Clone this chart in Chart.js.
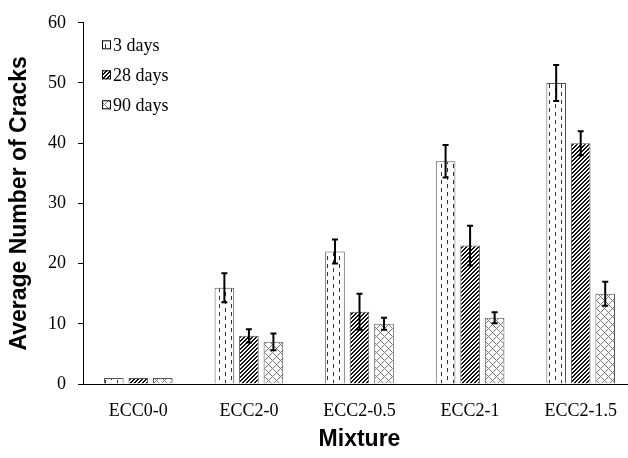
<!DOCTYPE html>
<html>
<head>
<meta charset="utf-8">
<script src="https://cdn.jsdelivr.net/npm/chart.js@4.4.1/dist/chart.umd.min.js"></script>
<style>
  html, body { margin: 0; padding: 0; background: #fff; overflow: hidden; }
  #wrap { width: 636px; height: 458px; }
</style>
</head>
<body>
<div id="wrap"><canvas id="myChart" width="636" height="458"></canvas></div>
<script>
// data
var mixtures = ["ECC0-0", "ECC2-0", "ECC2-0.5", "ECC2-1", "ECC2-1.5"];
var seriesNames = ["3 days", "28 days", "90 days"];
var cracks3 = [1, 16, 22, 37, 50];
var cracks28 = [1, 8, 12, 23, 40];
var cracks90 = [1, 7, 10, 11, 15];
var err3 = [0, 2.4, 2, 2.7, 3];
var err28 = [0, 1.1, 3, 3.3, 2];
var err90 = [0, 1.4, 1, 0.9, 2];
var yTicks = [0, 10, 20, 30, 40, 50, 60];

// fill patterns
function makePattern(w, h, draw) {
    var c = document.createElement('canvas');
    c.width = w; c.height = h;
    var g = c.getContext('2d');
    g.fillStyle = '#fff';
    g.fillRect(0, 0, w, h);
    draw(g, w, h);
    return document.getElementById('myChart').getContext('2d').createPattern(c, 'repeat');
}
var dashPattern = makePattern(12, 8, function (g) {
    g.fillStyle = '#333';
    g.fillRect(3, 0, 1, 4);
    g.fillRect(9, 4, 1, 4);
});
var diagPattern = makePattern(4, 4, function (g) {
    g.fillStyle = '#111';
    for (var x = 0; x < 4; x++) {
        for (var y = 0; y < 4; y++) {
            if ((x + y) % 4 === 0 || (x + y) % 4 === 1) g.fillRect(x, y, 1, 1);
        }
    }
});
var crossPattern = makePattern(8, 8, function (g) {
    g.fillStyle = '#777';
    for (var x = 0; x < 8; x++) {
        for (var y = 0; y < 8; y++) {
            if ((x + y) % 8 === 0 || (x - y + 8) % 8 === 0) g.fillRect(x, y, 1, 1);
        }
    }
});

var errs = [err3, err28, err90];

// error bars
var errorBars = {
    id: 'errorBars',
    afterDatasetsDraw: function (chart) {
        var ctx = chart.ctx;
        var yScale = chart.scales.y;
        ctx.save();
        ctx.strokeStyle = '#000';
        ctx.lineWidth = 2;
        chart.data.datasets.forEach(function (ds, di) {
            var meta = chart.getDatasetMeta(di);
            meta.data.forEach(function (bar, i) {
                var e = errs[di][i];
                if (!e) return;
                var top = yScale.getPixelForValue(ds.data[i] + e);
                var bot = yScale.getPixelForValue(ds.data[i] - e);
                ctx.beginPath();
                ctx.moveTo(bar.x, top); ctx.lineTo(bar.x, bot);
                ctx.moveTo(bar.x - 3, top); ctx.lineTo(bar.x + 3, top);
                ctx.moveTo(bar.x - 3, bot); ctx.lineTo(bar.x + 3, bot);
                ctx.stroke();
            });
        });
        ctx.restore();
    }
};

// legend inside the plot, top left
var innerLegend = {
    id: 'innerLegend',
    afterDraw: function (chart) {
        var ctx = chart.ctx;
        var area = chart.chartArea;
        ctx.save();
        ctx.font = '18px "Liberation Serif", "Times New Roman", serif';
        ctx.textBaseline = 'middle';
        chart.data.datasets.forEach(function (ds, i) {
            var x = area.left + 19;
            var y = area.top + 22 + i * 30;
            ctx.fillStyle = ds.backgroundColor;
            ctx.fillRect(x, y - 4.5, 9, 9);
            ctx.strokeStyle = '#000';
            ctx.lineWidth = 1;
            ctx.strokeRect(x + 0.5, y - 4, 8, 8);
            ctx.fillStyle = '#000';
            ctx.fillText(ds.label, x + 11, y + 1);
        });
        ctx.restore();
    }
};

var ctx = document.getElementById('myChart').getContext('2d');
var data = {
    labels: mixtures,
    datasets: [
        { label: seriesNames[0], data: cracks3, backgroundColor: dashPattern, borderColor: '#555', borderWidth: 1 },
        { label: seriesNames[1], data: cracks28, backgroundColor: diagPattern, borderColor: '#555', borderWidth: 1 },
        { label: seriesNames[2], data: cracks90, backgroundColor: crossPattern, borderColor: '#555', borderWidth: 1 }
    ]
};

var tickFont = { family: '"Liberation Serif", "Times New Roman", serif', size: 18 };
var titleFont = { family: '"Liberation Sans", Arial, sans-serif', size: 23, weight: 'bold' };

var options = {
    responsive: false,
    animation: false,
    categoryPercentage: 0.665,
    barPercentage: 0.8,
    layout: { padding: { left: 0, right: 0, top: 20, bottom: 0 } },
    plugins: {
        legend: { display: false },
        tooltip: { enabled: false }
    },
    scales: {
        x: {
            grid: { display: false, drawTicks: false },
            border: { display: true, color: '#000', width: 1 },
            ticks: { color: '#000', font: tickFont, padding: 16, maxRotation: 0 },
            title: { display: true, text: 'Mixture', color: '#000', font: titleFont, padding: { top: 0, bottom: 5 } },
            afterFit: function (s) { s.height = 74; }
        },
        y: {
            min: 0,
            max: 60,
            afterBuildTicks: function (s) { s.ticks = yTicks.map(function (v) { return { value: v }; }); },
            grid: { drawOnChartArea: false, drawTicks: true, tickLength: 5, color: '#000' },
            border: { display: true, color: '#000', width: 1 },
            ticks: { color: '#000', font: tickFont, padding: 12 },
            title: { display: true, text: 'Average Number of Cracks', color: '#000', font: titleFont, padding: { top: 6, bottom: 0 } },
            afterFit: function (s) { s.width = 83; }
        }
    }
};

var chart = new Chart(ctx, {
    type: 'bar',
    data: data,
    options: options,
    plugins: [errorBars, innerLegend]
});
</script>
</body>
</html>
